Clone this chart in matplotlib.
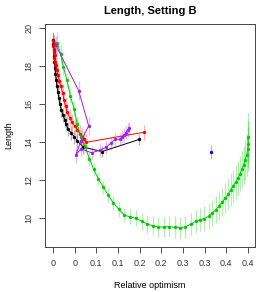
import matplotlib

matplotlib.use("Agg")

import matplotlib.pyplot as plt  # noqa: E402
import numpy as np  # noqa: E402

plt.rcParams["font.family"] = ["Liberation Sans", "DejaVu Sans"]

# series: x = relative optimism, y = length, e = half error bar
black_x = [0.001, 0.001, 0.002, 0.002, 0.003, 0.004, 0.005, 0.007, 0.008, 0.010,
           0.012, 0.014, 0.017, 0.021, 0.024, 0.027, 0.031, 0.037, 0.044, 0.050,
           0.062, 0.100, 0.177]
black_y = [19.40, 19.15, 18.86, 18.54, 18.23, 17.91, 17.59, 17.28, 16.96, 16.65,
           16.33, 16.02, 15.70, 15.44, 15.17, 14.95, 14.70, 14.49, 14.28, 14.07,
           13.75, 13.51, 14.15]
black_e = [0.35] * 21 + [0.3, 0.3]

red_x = [0.001, 0.002, 0.001, 0.003, 0.002, 0.004, 0.003, 0.005, 0.006, 0.008,
         0.010, 0.013, 0.016, 0.020, 0.022, 0.026, 0.029, 0.034, 0.039, 0.045,
         0.050, 0.055, 0.060, 0.064, 0.068, 0.187]
red_y = [19.35, 19.20, 19.05, 18.90, 18.75, 18.60, 18.45, 18.25, 18.05, 17.80,
         17.55, 17.25, 16.95, 16.60, 16.25, 15.90, 15.60, 15.30, 15.05, 14.85,
         14.65, 14.45, 14.30, 14.15, 14.00, 14.53]
red_e = [0.45] * 25 + [0.4]

green_x = [0.0088, 0.0158, 0.0211, 0.0287, 0.0355, 0.0431, 0.0498, 0.0574, 0.0656,
           0.0745, 0.0835, 0.0929, 0.1032, 0.1134, 0.1237, 0.1354, 0.1463, 0.1574,
           0.1703, 0.1819, 0.1928, 0.2045, 0.2160, 0.2277, 0.2386, 0.2496, 0.2605,
           0.2714, 0.2825, 0.2927, 0.3015, 0.3104, 0.3194, 0.3268, 0.3338, 0.3405,
           0.3473, 0.3534, 0.3590, 0.3645, 0.3698, 0.3747, 0.3795, 0.3836, 0.3877,
           0.3912, 0.3945, 0.3973, 0.3994, 0.4006, 0.4000]
green_y = [19.24, 18.65, 17.98, 17.26, 16.45, 15.77, 14.96, 14.26, 13.81,
           13.14, 12.58, 12.08, 11.65, 11.21, 10.82, 10.47, 10.17, 10.08,
           10.00, 9.84, 9.70, 9.61, 9.54, 9.54, 9.56, 9.53, 9.51,
           9.54, 9.70, 9.84, 9.93, 9.98, 10.11, 10.28, 10.45, 10.65,
           10.86, 11.07, 11.26, 11.49, 11.70, 11.91, 12.12, 12.35, 12.58,
           12.82, 13.07, 13.33, 13.63, 13.91, 14.26]
green_e = [0.55, 0.5, 0.45, 0.4, 0.4, 0.4, 0.4, 0.38, 0.36,
           0.35, 0.35, 0.35, 0.36, 0.36, 0.37, 0.38, 0.38, 0.4,
           0.42, 0.45, 0.47, 0.5, 0.52, 0.55, 0.56, 0.57, 0.58,
           0.58, 0.58, 0.6, 0.62, 0.65, 0.68, 0.7, 0.72, 0.74,
           0.76, 0.78, 0.8, 0.82, 0.85, 0.88, 0.9, 0.93, 0.96,
           1.0, 1.05, 1.1, 1.15, 1.2, 1.3]

purple_x = [0.0055, 0.0527, 0.0732, 0.0574, 0.0466, 0.0574, 0.0794, 0.0964,
            0.1087, 0.1184, 0.1272, 0.1374, 0.1422, 0.1463, 0.1497, 0.1532, 0.1565]
purple_y = [19.12, 16.72, 14.86, 14.07, 13.33, 13.65, 13.45, 13.59,
            13.73, 13.95, 14.16, 14.16, 14.29, 14.38, 14.50, 14.65, 14.74]
purple_e = [0.45, 0.5, 0.45, 0.4, 0.4, 0.35, 0.35, 0.35,
            0.35, 0.35, 0.35, 0.35, 0.35, 0.35, 0.35, 0.35, 0.35]

blue_x = [0.3235]
blue_y = [13.50]
blue_e = [0.37]

x_ticks = np.linspace(0, 0.4, 10)
y_ticks = [10, 12, 14, 16, 18, 20]

SERIES = [
    (black_x, black_y, black_e, "black"),
    (red_x, red_y, red_e, "#FF0000"),
    (green_x, green_y, green_e, "#00CD00"),
    (purple_x, purple_y, purple_e, "#A020F0"),
    (blue_x, blue_y, blue_e, "#0000FF"),
]


def main() -> None:
    fig = plt.figure(figsize=(2.66, 2.92), dpi=100)
    ax = fig.add_axes([45 / 266, 1 - 246.7 / 292, 210 / 266, 222.7 / 292])

    for xs, ys, es, color in SERIES:
        xs, ys, es = np.asarray(xs), np.asarray(ys), np.asarray(es)
        ax.vlines(xs, ys - es, ys + es, color=color, alpha=0.3, linewidth=0.9)
        ax.plot(xs, ys, color=color, linewidth=0.7, marker="o", markersize=2.4,
                markeredgewidth=0)

    ax.set_xlim(-0.0164, 0.4144)
    ax.set_ylim(8.505, 20.226)
    ax.set_xticks(x_ticks)
    ax.set_xticklabels([f"{v:.1f}".rstrip("0").rstrip(".") if v > 0 else "0"
                        for v in np.round(x_ticks, 1)])
    ax.set_yticks(y_ticks)
    ax.set_yticklabels([str(v) for v in y_ticks], rotation=90, va="center")
    ax.tick_params(labelsize=6.5, length=4.5, width=0.6, pad=4, colors="#333333")
    for spine in ax.spines.values():
        spine.set_linewidth(0.7)
        spine.set_color("#444444")

    ax.set_xlabel("Relative optimism", fontsize=6.5, labelpad=10)
    ax.set_ylabel("Length", fontsize=6.5, labelpad=8)
    ax.set_title("Length, Setting B", fontsize=8, fontweight="bold", pad=7)

    fig.savefig("out.png", dpi=100)
    plt.close(fig)


if __name__ == "__main__":
    main()
